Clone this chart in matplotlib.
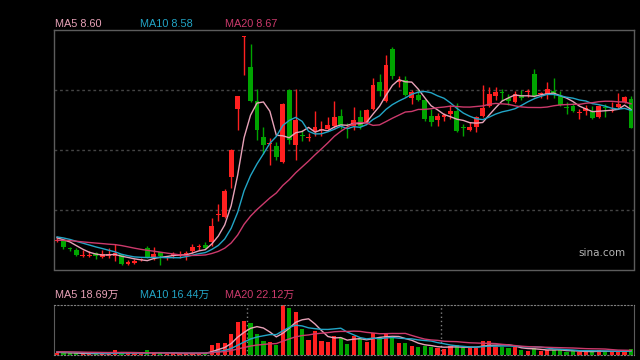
import matplotlib
matplotlib.use("Agg")
import matplotlib.pyplot as plt
import numpy as np
import pandas as pd

# ---- daily K-line data ----
opens = [5.91, 5.93, 5.76, 5.74, 5.61, 5.61, 5.67, 5.59, 5.62, 5.62,
         5.65, 5.45, 5.47, 5.53, 5.77, 5.59, 5.69, 5.57, 5.61, 5.61,
         5.64, 5.71, 5.79, 5.84, 5.89, 6.44, 6.39, 7.19, 8.55, 9.99,
         9.39, 8.72, 7.99, 7.86, 7.81, 7.49, 8.94, 7.84, 8.03, 7.98,
         8.11, 8.13, 8.16, 8.21, 8.42, 8.16, 8.21, 8.39, 8.29, 8.55,
         9.09, 8.72, 9.76, 9.09, 9.13, 8.77, 8.84, 8.74, 8.42, 8.34,
         8.39, 8.46, 8.51, 8.18, 8.14, 8.19, 8.42, 8.61, 8.81, 8.88,
         8.77, 8.69, 8.84, 8.89, 9.26, 8.85, 8.86, 8.92, 8.82, 8.58,
         8.62, 8.48, 8.51, 8.51, 8.39, 8.58, 8.51, 8.59, 8.69, 8.75]
highs = [6.01, 5.94, 5.80, 5.78, 5.73, 5.72, 5.70, 5.74, 5.77, 5.86,
         5.66, 5.53, 5.55, 5.57, 5.82, 5.79, 5.70, 5.62, 5.70, 5.71,
         5.71, 5.86, 5.85, 5.90, 6.37, 6.66, 6.96, 7.76, 8.82, 10.01,
         9.86, 8.95, 8.19, 7.97, 7.89, 8.68, 8.96, 8.95, 8.14, 8.07,
         8.52, 8.32, 8.39, 8.71, 8.56, 8.27, 8.59, 8.54, 8.56, 9.17,
         9.25, 9.64, 9.79, 9.22, 9.22, 8.94, 8.96, 8.76, 8.56, 8.47,
         8.47, 8.64, 8.67, 8.26, 8.29, 8.42, 9.04, 8.99, 8.99, 8.95,
         8.86, 8.92, 8.94, 8.96, 9.36, 8.89, 9.09, 9.17, 8.91, 8.69,
         8.67, 8.55, 8.64, 8.61, 8.64, 8.66, 8.69, 8.87, 8.81, 8.82]
lows = [5.89, 5.76, 5.71, 5.62, 5.60, 5.60, 5.55, 5.58, 5.57, 5.51,
        5.44, 5.43, 5.45, 5.51, 5.58, 5.53, 5.44, 5.54, 5.57, 5.57,
        5.53, 5.67, 5.74, 5.75, 5.82, 6.31, 6.38, 6.98, 8.14, 9.24,
        8.70, 7.94, 7.66, 7.44, 7.54, 7.48, 7.86, 7.54, 7.91, 7.92,
        8.02, 8.02, 8.14, 8.17, 8.16, 7.97, 8.14, 8.16, 8.28, 8.54,
        8.82, 8.70, 9.16, 8.99, 8.81, 8.66, 8.72, 8.31, 8.22, 8.22,
        8.31, 8.35, 8.10, 8.01, 8.11, 8.09, 8.40, 8.60, 8.74, 8.71,
        8.63, 8.68, 8.73, 8.79, 8.80, 8.77, 8.75, 8.77, 8.62, 8.46,
        8.50, 8.35, 8.44, 8.35, 8.38, 8.39, 8.49, 8.58, 8.68, 8.17]
closes = [5.93, 5.79, 5.75, 5.63, 5.63, 5.63, 5.61, 5.65, 5.65, 5.67,
          5.45, 5.49, 5.51, 5.55, 5.59, 5.66, 5.61, 5.59, 5.65, 5.65,
          5.67, 5.79, 5.81, 5.77, 6.22, 6.46, 6.91, 7.73, 8.81, 10.00,
          8.71, 8.13, 7.84, 7.88, 7.59, 8.66, 7.93, 8.34, 8.01, 8.00,
          8.19, 8.16, 8.24, 8.39, 8.21, 8.15, 8.34, 8.21, 8.54, 9.04,
          8.92, 9.44, 9.21, 9.11, 8.83, 8.89, 8.74, 8.36, 8.29, 8.42,
          8.43, 8.51, 8.11, 8.17, 8.19, 8.39, 8.57, 8.86, 8.89, 8.87,
          8.71, 8.86, 8.77, 8.90, 8.81, 8.87, 8.95, 8.85, 8.64, 8.57,
          8.52, 8.49, 8.57, 8.37, 8.61, 8.57, 8.54, 8.66, 8.79, 8.17]
# volume in 万 shares
volumes = [6.8, 9.0, 6.8, 9.0, 4.5, 4.5, 6.8, 6.8, 6.8, 22.5,
           11.3, 6.8, 6.8, 4.5, 22.5, 9.0, 9.0, 4.5, 6.8, 6.8,
           6.8, 9.0, 6.8, 6.8, 45.0, 55.4, 55.4, 94.5, 149.9, 154.4,
           145.4, 94.5, 63.0, 59.9, 45.0, 225.0, 210.2, 194.9, 117.0, 67.5,
           108.0, 63.0, 59.9, 85.5, 75.2, 50.9, 85.5, 70.7, 59.9, 100.4,
           79.7, 100.4, 79.7, 55.4, 55.4, 40.5, 37.4, 41.9, 37.4, 30.2,
           28.4, 41.9, 45.0, 30.2, 30.2, 30.2, 63.0, 63.0, 34.7, 37.4,
           30.2, 37.4, 22.5, 18.0, 31.5, 18.0, 22.5, 22.5, 22.5, 13.5,
           15.8, 13.5, 15.8, 18.0, 22.5, 13.5, 13.5, 18.0, 22.5, 27.0]
# sessions before the visible window (only feed the moving averages)
prior_closes = [5.82, 5.85, 5.88, 5.90, 5.86, 5.84, 5.86, 5.89, 5.84, 5.84,
                6.00, 6.04, 6.02, 5.99, 6.00, 5.99, 5.97, 6.00, 5.99]
prior_volumes = [12, 15, 18, 14, 16, 13, 17, 15, 14, 16,
                 15, 13, 18, 14, 16, 15, 12, 14, 13]
month_breaks = [29.5, 59.5]

price_labels = ["MA5 8.60", "MA10 8.58", "MA20 8.67"]
vol_labels = ["MA5 18.69万", "MA10 16.44万", "MA20 22.12万"]
ma_periods = [5, 10, 20]
ma_colors = ["#e8a2b8", "#22a5c6", "#cc3a6c"]

RED = "#ff2020"
GREEN = "#00a400"
GRID = "#444444"
FRAME = "#5c5c5c"

n = len(closes)
x = np.arange(n)
o = np.array(opens); c = np.array(closes)
h = np.array(highs); l = np.array(lows)
v = np.array(volumes)
up = c >= o
cols = np.where(up, RED, GREEN)

all_close = pd.Series(prior_closes + closes)
all_vol = pd.Series(prior_volumes + volumes)

fig = plt.figure(figsize=(6.4, 3.6), dpi=100, facecolor="black")
W, H = 640.0, 360.0
ax = fig.add_axes([54 / W, 1 - 269.5 / H, 580 / W, 239.5 / H], facecolor="black")
axv = fig.add_axes([54 / W, 1 - 355 / H, 580 / W, 50 / H], facecolor="black")

# ---- price panel ----
ylo, yhi = 5.34, 10.14
for g in np.linspace(ylo, yhi, 5)[1:-1]:
    ax.axhline(g, color=GRID, lw=1, ls=(0, (2, 2)), zorder=0)

ax.vlines(x, l, h, colors=cols, lw=1, zorder=2)
body_h = np.maximum(np.abs(c - o), 0.022)
ax.bar(x, body_h, bottom=np.minimum(o, c), width=0.75, color=cols,
       edgecolor=cols, lw=0, zorder=3)

for p, col in zip(ma_periods, ma_colors):
    ma = all_close.rolling(p).mean().values[-n:]
    ax.plot(x, ma, color=col, lw=1, zorder=4)

ax.set_xlim(-0.47, 89.46)
ax.set_ylim(ylo, yhi)
ax.set_xticks([]); ax.set_yticks([])
for s in ax.spines.values():
    s.set_color(FRAME); s.set_linewidth(1)
ax.text(0.985, 0.07, "sina.com", transform=ax.transAxes, ha="right", va="center",
        color="#b4b4b4", fontsize=7.5, family="DejaVu Sans")

# ---- volume panel ----
axv.bar(x, v, width=0.65, color=cols, lw=0, zorder=2)
for p, col in zip(ma_periods, ma_colors):
    mav = all_vol.rolling(p).mean().values[-n:]
    axv.plot(x, mav, color=col, lw=1, zorder=3)
for mb in month_breaks:
    axv.axvline(mb, color="#808080", lw=1, ls=(0, (1, 2)), zorder=1)
axv.set_xlim(-0.47, 89.46)
axv.set_ylim(0, 225)
axv.set_xticks([]); axv.set_yticks([])
axv.spines["left"].set_color(FRAME)
axv.spines["right"].set_color(FRAME)
for side in ("top", "bottom"):
    axv.spines[side].set_color("#808080")
    axv.spines[side].set_linestyle((0, (1, 2)))

# ---- MA legends ----
fam = ["Liberation Sans", "Noto Sans CJK SC"]
for xp, txt, col in zip([55, 140, 225], price_labels, ma_colors):
    fig.text(xp / W, 1 - 24 / H, txt, color=col, fontsize=7.8, va="center",
             family=fam)
for xp, txt, col in zip([55, 140, 225], vol_labels, ma_colors):
    fig.text(xp / W, 1 - 295 / H, txt, color=col, fontsize=7.8, va="center",
             family=fam)

fig.savefig("out.png", dpi=100, facecolor="black")
